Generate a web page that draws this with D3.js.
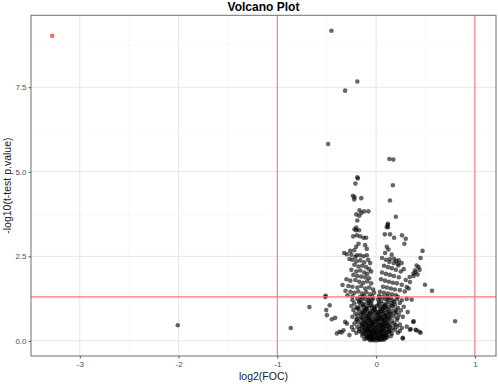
<!DOCTYPE html>
<html><head><meta charset="utf-8">
<script src="https://cdn.jsdelivr.net/npm/d3@7"></script>
<style>body{margin:0;background:#fff}svg{display:block;font-family:"Liberation Sans",Arial,sans-serif}</style>
</head><body><svg id="c" width="498" height="384"></svg>
<script>
const title = "Volcano Plot";
const xLabel = "log2(FOC)";
const yLabel = "-log10(t-test p.value)";
const xTicks = [-3, -2, -1, 0, 1];
const xTickLabels = ["-3", "-2", "-1", "0", "1"];
const xMinor = [-2.5, -1.5, -0.5, 0.5];
const yTicks = [0, 2.5, 5, 7.5];
const yTickLabels = ["0.0", "2.5", "5.0", "7.5"];
const yMinor = [1.25, 3.75, 6.25, 8.75];
const fcCutoffs = [-1, 1];
const pCutoff = 1.3;

// highlighted (significant) gene
const significant = [[-3.28, 9.02]];

// isolated genes
const outliers = [
  [-0.452, 9.17], [-0.19, 7.67], [-0.314, 7.4], [-0.486, 5.82], [0.135, 5.38], [0.175, 5.36],
  [-2.008, 0.46], [0.80, 0.58], [-0.864, 0.38], [-0.675, 1.0],
  [-0.515, 1.30], [-0.51, 1.33], [-0.47, 1.05], [-0.505, 0.91], [-0.498, 0.76], [-0.448, 0.64], [-0.414, 0.68],
  [-0.397, 0.22], [-0.37, 0.27], [-0.33, 0.31], [-0.296, 0.51], [-0.313, 0.56], [-0.27, 0.17], [-0.246, 0.41], [-0.35, 0.25],
  [0.377, 0.56], [0.41, 0.31], [0.45, 0.24], [0.27, 0.07], [0.343, 0.33], [0.31, 0.42],
  [0.31, 1.24], [0.36, 1.22], [0.32, 0.85], [0.38, 0.58], [0.35, 0.35], [0.40, 0.33], [0.44, 0.27], [0.27, 0.09],
  [0.495, 1.66], [0.566, 1.48], [0.31, 1.59], [0.343, 1.74]
];

// upper arms of the cloud
const arms = [
  [-0.19, 4.84], [-0.185, 4.80], [-0.21, 4.65], [0.17, 4.6], [-0.235, 4.29], [-0.218, 4.25], [-0.222, 4.18],
  [-0.15, 4.22], [0.14, 4.15], [-0.168, 3.86], [-0.121, 3.83], [-0.078, 3.83], [-0.2, 3.74], [-0.15, 3.78],
  [-0.17, 3.70], [-0.19, 3.56], [0.20, 3.67], [0.12, 3.46], [0.12, 3.36], [-0.2, 3.35],
  [0.108, 3.37], [0.118, 3.43], [0.088, 3.15], [0.141, 3.15], [0.182, 3.05],
  [-0.219, 3.3], [-0.202, 3.27], [-0.172, 3.27], [-0.232, 3.09], [-0.195, 3.12], [-0.162, 3.09], [-0.128, 3.05], [-0.101, 3.05],
  [0.262, 3.12], [0.30, 3.02], [0.286, 2.87], [-0.178, 2.87], [-0.202, 2.78], [-0.111, 2.83], [-0.094, 2.72],
  [-0.323, 2.6], [-0.296, 2.56], [-0.263, 2.66], [-0.222, 2.68], [-0.195, 2.53], [-0.162, 2.53], [-0.128, 2.5], [-0.094, 2.53],
  [-0.25, 2.55], [-0.21, 2.48],
  [0.108, 2.78], [0.125, 2.70], [0.091, 2.6], [0.158, 2.55], [0.182, 2.43], [0.202, 2.36], [0.229, 2.38], [0.259, 2.30],
  [0.135, 2.33], [0.226, 2.23],
  [0.47, 2.66], [0.45, 2.45], [0.41, 2.23], [0.43, 2.18], [0.394, 2.09], [0.377, 1.99], [0.44, 2.1], [0.34, 1.89],
  [0.40, 2.02], [0.42, 1.96], [0.38, 1.92],
  [-0.27, 2.42], [-0.24, 2.40], [-0.20, 2.35], [-0.16, 2.38], [-0.12, 2.32], [-0.08, 2.40], [-0.06, 2.30],
  [-0.22, 2.25], [-0.18, 2.20], [-0.14, 2.22], [-0.10, 2.18], [-0.07, 2.12], [-0.25, 2.10], [-0.20, 2.05],
  [-0.16, 2.08], [-0.12, 2.02], [-0.09, 1.98], [-0.05, 2.05], [-0.23, 1.95], [-0.19, 1.92], [-0.15, 1.90],
  [-0.11, 1.88], [-0.07, 1.85], [-0.30, 1.82], [-0.26, 1.78], [-0.21, 1.80], [-0.17, 1.75], [-0.13, 1.72],
  [-0.09, 1.76], [-0.05, 1.70], [-0.34, 1.65], [-0.28, 1.62], [-0.24, 1.60], [-0.19, 1.58], [-0.15, 1.62],
  [-0.11, 1.55], [-0.07, 1.58], [-0.03, 1.52], [-0.31, 1.48], [-0.26, 1.45], [-0.22, 1.42], [-0.18, 1.46],
  [-0.14, 1.40], [-0.10, 1.44], [-0.06, 1.38], [-0.02, 1.42], [-0.29, 1.35], [-0.24, 1.32], [-0.16, 1.30],
  [-0.12, 1.33], [-0.08, 1.28], [-0.04, 1.31],
  [0.06, 2.45], [0.10, 2.40], [0.14, 2.42], [0.18, 2.30], [0.22, 2.28], [0.08, 2.22], [0.12, 2.18], [0.16, 2.15],
  [0.20, 2.10], [0.25, 2.05], [0.28, 2.12], [0.06, 2.02], [0.10, 1.98], [0.14, 1.95], [0.18, 1.92], [0.23, 1.88],
  [0.30, 1.80], [0.05, 1.82], [0.09, 1.78], [0.13, 1.75], [0.17, 1.72], [0.21, 1.70], [0.26, 1.66], [0.07, 1.60],
  [0.11, 1.58], [0.15, 1.55], [0.19, 1.52], [0.24, 1.50], [0.29, 1.46], [0.04, 1.45], [0.08, 1.42], [0.12, 1.40],
  [0.16, 1.38], [0.20, 1.35], [0.33, 1.55], [0.03, 1.33], [0.07, 1.30], [0.11, 1.32], [0.15, 1.28], [0.22, 1.30]
];

// dense core near zero
const core = [
  [-0.24, 1.21], [-0.19, 1.24], [-0.15, 1.19], [-0.11, 1.23], [-0.07, 1.20], [-0.03, 1.25], [0.02, 1.22], [0.05, 1.18],
  [0.09, 1.24], [0.13, 1.21], [0.17, 1.19], [0.21, 1.23], [0.26, 1.20],
  [-0.22, 1.11], [-0.17, 1.14], [-0.13, 1.09], [-0.09, 1.12], [-0.05, 1.10], [0.03, 1.13], [0.07, 1.09], [0.11, 1.14],
  [0.15, 1.11], [0.19, 1.08], [0.24, 1.12],
  [-0.25, 1.03], [-0.20, 0.99], [-0.16, 1.04], [-0.12, 1.00], [-0.08, 1.02], [-0.04, 0.98], [0.01, 1.03], [0.05, 1.00],
  [0.09, 1.04], [0.13, 0.99], [0.17, 1.02], [0.22, 0.98], [0.28, 1.01],
  [-0.23, 0.91], [-0.18, 0.94], [-0.14, 0.90], [-0.10, 0.93], [-0.06, 0.89], [-0.02, 0.92], [0.04, 0.94], [0.08, 0.90],
  [0.12, 0.93], [0.16, 0.89], [0.20, 0.92], [0.25, 0.90],
  [-0.21, 0.81], [-0.17, 0.84], [-0.13, 0.80], [-0.09, 0.83], [-0.05, 0.79], [-0.01, 0.82], [0.03, 0.85], [0.07, 0.80],
  [0.11, 0.83], [0.15, 0.79], [0.19, 0.82], [0.23, 0.78],
  [-0.24, 0.71], [-0.19, 0.74], [-0.15, 0.70], [-0.11, 0.73], [-0.07, 0.69], [-0.03, 0.72], [0.02, 0.75], [0.06, 0.70],
  [0.10, 0.73], [0.14, 0.69], [0.18, 0.72], [0.22, 0.68], [0.27, 0.71],
  [-0.20, 0.61], [-0.16, 0.64], [-0.12, 0.60], [-0.08, 0.63], [-0.04, 0.59], [0.00, 0.62], [0.04, 0.65], [0.08, 0.60],
  [0.12, 0.63], [0.16, 0.59], [0.21, 0.62],
  [-0.22, 0.51], [-0.18, 0.54], [-0.14, 0.50], [-0.10, 0.53], [-0.06, 0.49], [-0.02, 0.52], [0.02, 0.55], [0.06, 0.50],
  [0.10, 0.53], [0.14, 0.49], [0.18, 0.52], [0.24, 0.48],
  [-0.19, 0.41], [-0.15, 0.44], [-0.11, 0.40], [-0.07, 0.43], [-0.03, 0.39], [0.01, 0.42], [0.05, 0.45], [0.09, 0.40],
  [0.13, 0.43], [0.17, 0.39], [0.21, 0.42], [0.26, 0.38],
  [-0.23, 0.32], [-0.17, 0.35], [-0.13, 0.31], [-0.09, 0.34], [-0.05, 0.30], [-0.01, 0.33], [0.03, 0.36], [0.07, 0.31],
  [0.11, 0.34], [0.15, 0.30], [0.19, 0.33], [0.24, 0.29],
  [-0.20, 0.23], [-0.15, 0.26], [-0.11, 0.22], [-0.07, 0.25], [-0.04, 0.21], [0.00, 0.24], [0.04, 0.27], [0.08, 0.22],
  [0.12, 0.25], [0.16, 0.21], [0.22, 0.24],
  [-0.14, 0.15], [-0.10, 0.17], [-0.06, 0.13], [-0.03, 0.16], [0.01, 0.14], [0.04, 0.18], [0.07, 0.13], [0.11, 0.16], [0.15, 0.14],
  [-0.09, 0.07], [-0.05, 0.09], [-0.02, 0.06], [0.02, 0.08], [0.05, 0.05], [0.09, 0.08],
  [-0.03, 0.02], [0.00, 0.01], [0.03, 0.03],
  [-0.13, 1.06], [-0.095, 0.97], [-0.055, 1.05], [-0.015, 0.96], [0.025, 1.07], [0.065, 0.95], [0.105, 1.06],
  [-0.115, 0.87], [-0.075, 0.78], [-0.035, 0.86], [0.005, 0.77], [0.045, 0.88], [0.085, 0.76], [0.125, 0.85],
  [-0.135, 0.67], [-0.095, 0.57], [-0.055, 0.66], [-0.015, 0.56], [0.025, 0.68], [0.065, 0.58], [0.105, 0.66],
  [-0.125, 0.47], [-0.085, 0.37], [-0.045, 0.46], [-0.005, 0.36], [0.035, 0.48], [0.075, 0.38], [0.115, 0.46],
  [-0.105, 0.28], [-0.065, 0.19], [-0.025, 0.27], [0.015, 0.20], [0.055, 0.29], [0.095, 0.19], [0.135, 0.27],
  [-0.075, 0.11], [-0.035, 0.04], [0.015, 0.11], [0.06, 0.03], [-0.06, 0.02], [0.07, 0.10]
];

// extra genes filling the densest part of the cloud
const coreDense = [
  [-0.118, 0.052], [-0.087, 0.143], [-0.043, 0.071], [0.012, 0.058], [0.048, 0.121], [0.083, 0.042], [0.112, 0.097],
  [-0.021, 0.118], [0.031, 0.089], [-0.064, 0.047],
  [-0.133, 0.212], [-0.092, 0.286], [-0.051, 0.174], [-0.018, 0.231], [0.022, 0.305], [0.061, 0.182], [0.097, 0.254],
  [0.128, 0.317], [-0.072, 0.338], [0.042, 0.223],
  [-0.142, 0.395], [-0.103, 0.452], [-0.058, 0.361], [-0.026, 0.418], [0.014, 0.487], [0.053, 0.377], [0.091, 0.436],
  [0.138, 0.392], [-0.081, 0.503], [0.072, 0.512],
  [-0.124, 0.562], [-0.067, 0.613], [-0.033, 0.544], [0.028, 0.593], [0.086, 0.637], [0.121, 0.571], [-0.098, 0.682],
  [0.047, 0.708], [-0.011, 0.664], [0.103, 0.742],
  [-0.152, 0.781], [-0.062, 0.823], [0.018, 0.846], [0.066, 0.862], [0.142, 0.807], [-0.106, 0.938], [-0.021, 1.012],
  [0.092, 0.973], [0.158, 1.047], [-0.168, 1.162],
  [-0.044, 1.183], [0.038, 1.281], [0.118, 1.267], [-0.138, 1.286], [0.183, 1.158], [-0.186, 0.963], [0.205, 0.857],
  [-0.195, 0.643], [0.196, 0.475], [-0.172, 0.288],
  [-0.052, 0.118], [-0.011, 0.163], [0.027, 0.041], [0.058, 0.152], [-0.097, 0.102], [0.101, 0.131], [-0.029, 0.301],
  [0.009, 0.272], [0.047, 0.341], [-0.061, 0.253], [0.082, 0.291], [-0.117, 0.341], [-0.038, 0.487], [0.006, 0.421],
  [0.059, 0.461], [-0.076, 0.427], [0.099, 0.517], [-0.146, 0.521], [-0.051, 0.572], [0.012, 0.631], [0.063, 0.641],
  [-0.088, 0.731], [0.133, 0.702], [-0.131, 0.842], [0.037, 0.782], [-0.008, 0.902], [0.079, 1.012], [-0.072, 1.152]
];

const W = 498, H = 384;
const panel = {left: 31, right: 496, top: 15.3, bottom: 356};
const svg = d3.select("#c");

const allPts = significant.concat(outliers, arms, core, coreDense);
const xExt = d3.extent(allPts.map(d => d[0]).concat(fcCutoffs));
const yExt = d3.extent(allPts.map(d => d[1]));
const xPad = (xExt[1] - xExt[0]) * 0.05, yPad = (yExt[1] - yExt[0]) * 0.05;
const x = d3.scaleLinear().domain([xExt[0] - xPad, xExt[1] + xPad]).range([panel.left, panel.right]);
const y = d3.scaleLinear().domain([yExt[0] - yPad, yExt[1] + yPad]).range([panel.bottom, panel.top]);

const g = svg.append("g");
// grid
g.selectAll("line.xm").data(xMinor).join("line")
  .attr("x1", d => x(d)).attr("x2", d => x(d)).attr("y1", panel.top).attr("y2", panel.bottom)
  .attr("stroke", "#f3f3f3").attr("stroke-width", 0.6);
g.selectAll("line.ym").data(yMinor).join("line")
  .attr("y1", d => y(d)).attr("y2", d => y(d)).attr("x1", panel.left).attr("x2", panel.right)
  .attr("stroke", "#f3f3f3").attr("stroke-width", 0.6);
g.selectAll("line.xg").data(xTicks).join("line")
  .attr("x1", d => x(d)).attr("x2", d => x(d)).attr("y1", panel.top).attr("y2", panel.bottom)
  .attr("stroke", "#e6e6e6").attr("stroke-width", 1);
g.selectAll("line.yg").data(yTicks).join("line")
  .attr("y1", d => y(d)).attr("y2", d => y(d)).attr("x1", panel.left).attr("x2", panel.right)
  .attr("stroke", "#e6e6e6").attr("stroke-width", 1);

// points
svg.append("g").selectAll("circle").data(outliers.concat(arms, core, coreDense)).join("circle")
  .attr("cx", d => x(d[0])).attr("cy", d => y(d[1])).attr("r", 2.3)
  .attr("fill", "#000").attr("fill-opacity", 0.6);
svg.append("g").selectAll("circle").data(significant).join("circle")
  .attr("cx", d => x(d[0])).attr("cy", d => y(d[1])).attr("r", 2.3)
  .attr("fill", "#ff0000").attr("fill-opacity", 0.6);

// cutoff lines
svg.append("g").selectAll("line").data(fcCutoffs).join("line")
  .attr("x1", d => x(d)).attr("x2", d => x(d)).attr("y1", panel.top).attr("y2", panel.bottom)
  .attr("stroke", "#f47a7a").attr("stroke-width", 1.1);
svg.append("line").attr("x1", panel.left).attr("x2", panel.right)
  .attr("y1", y(pCutoff)).attr("y2", y(pCutoff))
  .attr("stroke", "#f47a7a").attr("stroke-width", 1.1);

// border
svg.append("rect").attr("x", panel.left).attr("y", panel.top)
  .attr("width", panel.right - panel.left).attr("height", panel.bottom - panel.top)
  .attr("fill", "none").attr("stroke", "#6e6e6e").attr("stroke-width", 1);

// axes
const xAxis = d3.axisBottom(x).tickValues(xTicks).tickFormat((d, i) => xTickLabels[i]).tickSize(2.5).tickPadding(3);
const yAxis = d3.axisLeft(y).tickValues(yTicks).tickFormat((d, i) => yTickLabels[i]).tickSize(2.5).tickPadding(2);
const gx = svg.append("g").attr("transform", `translate(0,${panel.bottom})`).call(xAxis);
const gy = svg.append("g").attr("transform", `translate(${panel.left},0)`).call(yAxis);
[gx, gy].forEach(a => {
  a.select(".domain").remove();
  a.selectAll(".tick line").attr("stroke", "#555");
  a.selectAll(".tick text").attr("fill", "#4d4d4d").style("font-size", "8px")
    .style("font-family", '"Liberation Sans",Arial,sans-serif');
});

// titles
svg.append("text").attr("x", (panel.left + panel.right) / 2).attr("y", 11)
  .attr("text-anchor", "middle").style("font-size", "12px").style("font-weight", "bold").text(title);
svg.append("text").attr("x", (panel.left + panel.right) / 2).attr("y", 380)
  .attr("text-anchor", "middle").style("font-size", "10.5px").attr("fill", "#222").text(xLabel);
svg.append("text").attr("transform", `translate(11,${(panel.top + panel.bottom) / 2}) rotate(-90)`)
  .attr("text-anchor", "middle").style("font-size", "10.5px").attr("fill", "#222").text(yLabel);
</script></body></html>
